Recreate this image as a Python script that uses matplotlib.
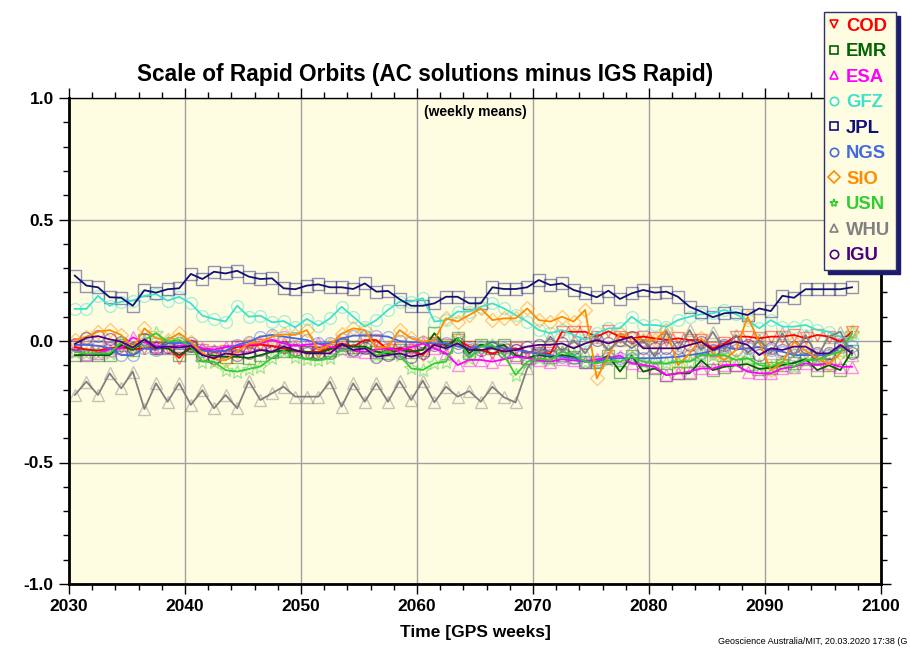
import numpy as np
import matplotlib
matplotlib.use('Agg')
import matplotlib.pyplot as plt
from matplotlib.lines import Line2D
from matplotlib.ticker import MultipleLocator, FormatStrFormatter
from matplotlib.colors import to_rgba

plt.rcParams['font.family'] = ['Liberation Sans', 'DejaVu Sans']

# GPS weeks (values are plotted at mid-week)
weeks = np.arange(2030, 2098)

cod = [-0.025, -0.035, -0.040, -0.030, -0.025, -0.035, -0.030, -0.030, -0.025, -0.070, -0.020, -0.035,
       -0.045, -0.040, -0.025, -0.020, -0.015, -0.020, -0.030, -0.040, -0.045, -0.045, -0.030, -0.010,
       -0.023, 0.004, 0.004, -0.037, -0.030, -0.037, -0.058, -0.010, -0.016, 0.004, -0.023, -0.037,
       -0.051, -0.037, -0.030, -0.044, -0.051, -0.051, 0.038, 0.038, 0.038, 0.018, 0.040, 0.018,
       0.011, 0.018, 0.011, 0.004, 0.011, 0.004, 0.004, -0.030, -0.010, 0.018, 0.018, 0.011,
       0.018, 0.018, 0.025, 0.011, 0.025, 0.018, -0.003, 0.038]

emr = [-0.058, -0.058, -0.058, -0.058, -0.016, -0.037, 0.004, -0.030, -0.030, -0.058, -0.030, -0.058,
       -0.060, -0.065, -0.065, -0.070, -0.058, -0.045, -0.040, -0.040, -0.045, -0.050, -0.035, -0.018,
       -0.023, -0.023, -0.044, -0.051, -0.037, -0.044, -0.037, 0.032, -0.023, 0.011, -0.051, -0.016,
       -0.030, -0.016, -0.058, -0.070, -0.058, -0.065, -0.058, -0.065, -0.085, -0.085, -0.060, -0.126,
       -0.060, -0.126, -0.113, -0.140, -0.133, -0.133, -0.080, -0.120, -0.106, -0.100, -0.095, -0.115,
       -0.110, -0.099, -0.090, -0.075, -0.120, -0.100, -0.120, -0.040]

esa = [-0.035, -0.055, -0.050, -0.035, -0.030, 0.015, -0.005, -0.020, -0.025, -0.020, -0.015, -0.030,
       -0.035, -0.025, -0.020, -0.015, -0.010, 0.005, -0.010, -0.020, -0.015, -0.010, -0.025, -0.030,
       -0.040, -0.045, -0.035, -0.030, -0.040, -0.025, -0.010, -0.030, -0.050, -0.099, -0.078, -0.078,
       -0.085, -0.075, -0.065, -0.070, -0.080, -0.085, -0.075, -0.080, -0.085, -0.075, -0.071, -0.060,
       -0.092, -0.099, -0.106, -0.140, -0.133, -0.126, -0.113, -0.113, -0.099, -0.099, -0.126, -0.133,
       -0.133, -0.113, -0.106, -0.092, -0.099, -0.092, -0.106, -0.106]

gfz = [0.132, 0.132, 0.186, 0.145, 0.162, 0.166, 0.186, 0.193, 0.166, 0.182, 0.155, 0.104,
       0.091, 0.080, 0.145, 0.100, 0.104, 0.077, 0.082, 0.056, 0.091, 0.063, 0.093, 0.141,
       0.100, 0.059, 0.086, 0.128, 0.162, 0.162, 0.176, 0.080, 0.086, 0.121, 0.121, 0.141,
       0.155, 0.134, 0.107, 0.080, 0.045, 0.032, 0.045, 0.025, 0.004, 0.032, 0.052, 0.052,
       0.100, 0.066, 0.066, 0.059, 0.086, 0.100, 0.110, 0.114, 0.128, 0.110, 0.086, 0.052,
       0.086, 0.059, 0.059, 0.066, 0.045, 0.038, 0.018, 0.004]

jpl = [0.269, 0.228, 0.221, 0.180, 0.178, 0.145, 0.209, 0.199, 0.213, 0.217, 0.276, 0.255,
       0.285, 0.278, 0.289, 0.265, 0.255, 0.258, 0.217, 0.213, 0.228, 0.233, 0.221, 0.221,
       0.214, 0.237, 0.203, 0.206, 0.172, 0.145, 0.145, 0.155, 0.182, 0.182, 0.155, 0.155,
       0.221, 0.214, 0.214, 0.221, 0.251, 0.230, 0.237, 0.210, 0.196, 0.180, 0.207, 0.173,
       0.196, 0.210, 0.199, 0.203, 0.182, 0.141, 0.121, 0.098, 0.114, 0.118, 0.107, 0.134,
       0.123, 0.186, 0.178, 0.213, 0.213, 0.213, 0.213, 0.221]

ngs = [-0.016, -0.016, -0.020, -0.030, -0.058, -0.058, -0.030, -0.037, -0.010, -0.008, -0.010, -0.040,
       -0.044, -0.040, -0.016, -0.003, 0.018, 0.025, 0.018, 0.011, 0.004, -0.010, -0.010, 0.010,
       0.022, 0.022, 0.022, 0.018, 0.000, -0.005, -0.005, -0.010, -0.010, -0.023, -0.030, -0.023,
       -0.023, -0.030, -0.037, -0.044, -0.051, -0.058, -0.065, -0.071, -0.085, -0.085, -0.071, -0.071,
       -0.071, -0.071, -0.071, -0.068, -0.065, -0.058, -0.051, -0.040, -0.023, -0.035, -0.030, -0.025,
       -0.037, -0.044, -0.058, -0.058, -0.058, -0.058, -0.023, -0.020]

sio = [0.004, 0.018, 0.038, 0.045, 0.025, -0.030, 0.052, 0.011, 0.004, 0.032, -0.003, -0.050,
       -0.075, -0.080, -0.044, -0.010, -0.005, 0.018, 0.027, 0.025, 0.045, -0.037, -0.016, 0.030,
       0.052, 0.045, -0.030, -0.023, 0.045, 0.011, -0.003, 0.004, 0.093, 0.080, 0.107, 0.134,
       0.086, 0.093, 0.093, 0.134, 0.086, 0.080, 0.100, 0.080, 0.128, -0.154, -0.060, 0.032,
       0.011, 0.004, 0.004, 0.045, -0.099, -0.051, 0.011, -0.051, -0.078, -0.037, 0.100, -0.003,
       -0.120, -0.090, -0.003, -0.040, -0.071, -0.095, -0.050, 0.035]

usn = [-0.044, -0.051, -0.051, -0.051, -0.005, -0.030, 0.004, 0.032, -0.003, 0.004, -0.023, -0.085,
       -0.085, -0.120, -0.126, -0.115, -0.105, -0.070, -0.040, -0.065, -0.075, -0.080, -0.070, -0.035,
       -0.037, -0.030, -0.058, -0.044, -0.058, -0.113, -0.119, -0.092, -0.085, 0.011, -0.071, -0.023,
       -0.016, -0.058, -0.140, -0.085, -0.071, -0.080, -0.044, -0.058, -0.085, -0.092, -0.080, -0.085,
       -0.065, -0.085, -0.092, -0.092, -0.085, -0.085, -0.058, -0.058, -0.058, -0.078, -0.070, -0.099,
       -0.106, -0.085, -0.106, -0.078, -0.078, -0.058, -0.044, 0.032]

whu = [-0.222, -0.167, -0.222, -0.133, -0.195, -0.126, -0.280, -0.174, -0.250, -0.174, -0.263, -0.202,
       -0.277, -0.222, -0.277, -0.165, -0.243, -0.215, -0.188, -0.229, -0.229, -0.229, -0.167, -0.270,
       -0.174, -0.250, -0.174, -0.250, -0.165, -0.243, -0.163, -0.252, -0.188, -0.229, -0.206, -0.250,
       -0.188, -0.232, -0.253, -0.113, -0.044, 0.018, -0.044, 0.004, -0.051, 0.018, -0.037, 0.004,
       -0.030, 0.004, -0.065, 0.038, -0.037, 0.045, -0.037, 0.038, -0.037, 0.025, -0.051, 0.004,
       -0.051, 0.032, -0.065, 0.025, -0.065, 0.018, 0.038, -0.058]

igu = [-0.012, 0.013, 0.020, 0.007, -0.003, -0.027, 0.007, -0.027, -0.023, -0.027, -0.020, -0.058,
       -0.071, -0.051, -0.058, -0.051, -0.037, -0.044, -0.023, -0.037, -0.051, -0.051, -0.051, -0.012,
       -0.037, -0.030, -0.065, -0.058, -0.051, -0.065, -0.051, -0.016, -0.030, -0.010, -0.037, -0.037,
       -0.030, -0.044, -0.037, -0.023, -0.016, -0.016, -0.010, -0.030, -0.010, 0.004, -0.010, 0.004,
       0.018, -0.030, -0.030, -0.030, -0.030, -0.016, -0.003, -0.037, -0.016, -0.003, -0.016, -0.058,
       -0.030, -0.037, -0.023, -0.023, -0.051, -0.051, -0.016, -0.051]

centers = ['COD', 'EMR', 'ESA', 'GFZ', 'JPL', 'NGS', 'SIO', 'USN', 'WHU', 'IGU']
series = [cod, emr, esa, gfz, jpl, ngs, sio, usn, whu, igu]
colors = ['#ff0000', '#006400', '#ff00ff', '#40e0d0', '#10107a',
          '#4169e1', '#ff8c00', '#32cd32', '#808080', '#4b0082']
markers = ['v', 's', '^', 'o', 's', 'o', 'D', '*', '^', 'o']
msizes = [9, 8, 9, 8.5, 8, 8.5, 7.5, 10, 9, 8.5]

bg = '#fffde1'

fig = plt.figure(figsize=(9.1, 6.48), dpi=100)
ax = fig.add_axes([69 / 910, 64 / 648, 812 / 910, 486 / 648])
ax.set_facecolor(bg)

x = weeks + 0.5
for vals, c, m, ms in zip(series, colors, markers, msizes):
    ax.plot(x, vals, color=c, lw=1.3, zorder=3)
    ax.plot(x, vals, ls='none', marker=m, ms=ms, mfc='none',
            mec=to_rgba(c, 0.45), mew=1.0, zorder=2)

ax.set_xlim(2030, 2100)
ax.set_ylim(-1.0, 1.0)
ax.xaxis.set_major_locator(MultipleLocator(10))
ax.xaxis.set_minor_locator(MultipleLocator(2))
ax.yaxis.set_major_locator(MultipleLocator(0.5))
ax.yaxis.set_minor_locator(MultipleLocator(0.1))
ax.yaxis.set_major_formatter(FormatStrFormatter('%.1f'))
ax.grid(which='major', color='#a0a0a0', lw=1.0, zorder=1)
ax.set_axisbelow(True)

ax.tick_params(which='both', direction='out', top=True, right=True,
               labeltop=False, labelright=False, width=1.0, color='black')
ax.tick_params(which='major', length=7, labelsize=12.5, pad=4)
ax.tick_params(which='minor', length=4)
for lab in ax.get_xticklabels() + ax.get_yticklabels():
    lab.set_fontweight('bold')

for side in ['left', 'bottom', 'right']:
    ax.spines[side].set_linewidth(2.0)
ax.spines['top'].set_linewidth(1.0)

ax.set_xlabel('Time [GPS weeks]', fontsize=12.5, fontweight='bold', labelpad=8)
ax.text(0.5, 0.985, '(weekly means)', transform=ax.transAxes, ha='center', va='top',
        fontsize=10, fontweight='bold')
fig.text(425 / 910, 1 - 75 / 648, 'Scale of Rapid Orbits (AC solutions minus IGS Rapid)',
         ha='center', va='center', fontsize=16.3, fontweight='bold')
fig.text(718 / 910, 1 - 642 / 648, 'Geoscience Australia/MIT, 20.03.2020 17:38 (G',
         ha='left', va='center', fontsize=6.5)

handles = [Line2D([], [], ls='none', marker=m, ms=6, mfc='none', mec=c, mew=1.2)
           for m, c in zip(markers, colors)]
leg = fig.legend(handles, centers, loc='upper left',
                 bbox_to_anchor=(824 / 910, 1 - 12 / 648), borderaxespad=0,
                 prop={'weight': 'bold', 'size': 13.3}, labelcolor=colors,
                 handlelength=0.5, handletextpad=0.4, labelspacing=0.46,
                 borderpad=0.3, fancybox=False, framealpha=1,
                 shadow={'color': '#1c1c6e', 'alpha': 1, 'ox': 3, 'oy': -3})
leg.get_frame().set_facecolor(bg)
leg.get_frame().set_edgecolor('#303070')
leg.get_frame().set_linewidth(1.0)

fig.savefig('out.png', dpi=100)
